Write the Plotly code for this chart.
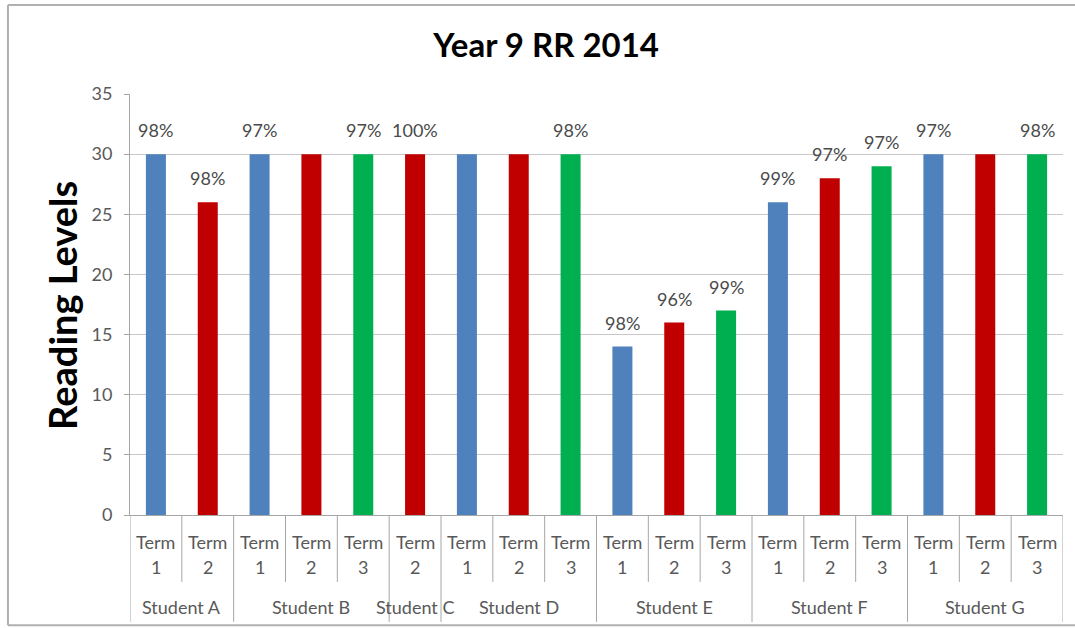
import plotly.graph_objects as go

# Reading levels per student and term, with the accuracy shown above each bar
students = ["Student A", "Student B", "Student C", "Student D",
            "Student E", "Student F", "Student G"]
terms = [[1, 2], [1, 2, 3], [2], [1, 2, 3], [1, 2, 3], [1, 2, 3], [1, 2, 3]]
levels = [[30, 26], [30, 30, 30], [30], [30, 30, 30],
          [14, 16, 17], [26, 28, 29], [30, 30, 30]]
accuracy = [["98%", "98%"], ["97%", None, "97%"], ["100%"], [None, None, "98%"],
            ["98%", "96%", "99%"], ["99%", "97%", "97%"], ["97%", None, "98%"]]
y_ticks = [0, 5, 10, 15, 20, 25, 30, 35]

term_colors = {1: "#4F81BD", 2: "#C00000", 3: "#00B050"}
FONT = "Lato"
GREY_TEXT = "#595959"
LINE = "#A6A6A6"
LABEL_SIZE = 18

# flatten into one position per (student, term)
rows = []
group_edges = [-0.5]
pos = 0
for s, ts, lv, acc in zip(students, terms, levels, accuracy):
    for t, v, a in zip(ts, lv, acc):
        rows.append(dict(x=pos, student=s, term=t, level=v, acc=a))
        pos += 1
    group_edges.append(pos - 0.5)
n = pos

fig = go.Figure()
for t in (1, 2, 3):
    sel = [r for r in rows if r["term"] == t]
    fig.add_trace(go.Bar(
        x=[r["x"] for r in sel],
        y=[r["level"] for r in sel],
        name=f"Term {t}",
        marker=dict(color=term_colors[t], line=dict(width=0)),
        width=0.386,
    ))

annotations = []
# accuracy labels above bars
for r in rows:
    if r["acc"]:
        annotations.append(dict(
            x=r["x"], y=r["level"], xref="x", yref="y", text=r["acc"],
            showarrow=False, yanchor="bottom", yshift=11,
            font=dict(family=FONT, size=LABEL_SIZE, color="#4A4A4A")))

# two-level category labels under the axis
for r in rows:
    annotations.append(dict(
        x=r["x"], y=-0.064, xref="x", yref="paper", text="Term",
        showarrow=False, yanchor="middle",
        font=dict(family=FONT, size=LABEL_SIZE, color=GREY_TEXT)))
    annotations.append(dict(
        x=r["x"], y=-0.1235, xref="x", yref="paper", text=str(r["term"]),
        showarrow=False, yanchor="middle",
        font=dict(family=FONT, size=LABEL_SIZE, color=GREY_TEXT)))
for s, a, b in zip(students, group_edges[:-1], group_edges[1:]):
    annotations.append(dict(
        x=(a + b) / 2, y=-0.2185, xref="x", yref="paper", text=s,
        showarrow=False, yanchor="middle",
        font=dict(family=FONT, size=LABEL_SIZE, color=GREY_TEXT)))

# axis title
annotations.append(dict(
    x=-0.0729, y=0.499, xref="paper", yref="paper", text="<b>Reading Levels</b>",
    textangle=-90, showarrow=False, xanchor="center", yanchor="middle",
    font=dict(family=FONT, size=38, color="#000000")))

shapes = []
# separators between categories and between student groups
for k in range(n + 1):
    edge = k - 0.5
    bottom = -0.254 if edge in group_edges else -0.159
    shapes.append(dict(type="line", xref="x", yref="paper",
                       x0=edge, x1=edge, y0=0, y1=bottom,
                       line=dict(color=LINE, width=1)))
# chart frame: left, top and bottom edges, running to the right side of the page
frame_left, frame_right = -0.1308, 1.0129
frame_bottom, frame_top = -0.262, 1.2114
for x0, x1, y0, y1 in [
    (frame_left, frame_left, frame_bottom, frame_top),
    (frame_left, frame_right, frame_top, frame_top),
    (frame_left, frame_right, frame_bottom, frame_bottom),
]:
    shapes.append(dict(type="line", xref="paper", yref="paper",
                       x0=x0, x1=x1, y0=y0, y1=y1,
                       line=dict(color="#B0B0B0", width=2)))

fig.update_layout(
    width=1075, height=628,
    margin=dict(l=130, r=12, t=94, b=113),
    paper_bgcolor="white", plot_bgcolor="white",
    showlegend=False,
    barmode="overlay",
    title=dict(text="<b>Year 9 RR 2014</b>", x=0.508, xanchor="center",
               y=0.928, yanchor="middle",
               font=dict(family=FONT, size=33, color="#000000")),
    xaxis=dict(range=[-0.5, n - 0.5], showticklabels=False, showgrid=False,
               zeroline=False, showline=True, linecolor=LINE, linewidth=1,
               ticks=""),
    yaxis=dict(range=[0, 35], tickvals=y_ticks, showgrid=True,
               gridcolor="#C8C8C8", gridwidth=1, zeroline=False,
               showline=True, linecolor=LINE, linewidth=1,
               ticks="outside", ticklen=5, tickcolor=LINE,
               ticklabelstandoff=8,
               tickfont=dict(family=FONT, size=18, color=GREY_TEXT)),
    annotations=annotations,
    shapes=shapes,
)

fig.write_html("out.html")
